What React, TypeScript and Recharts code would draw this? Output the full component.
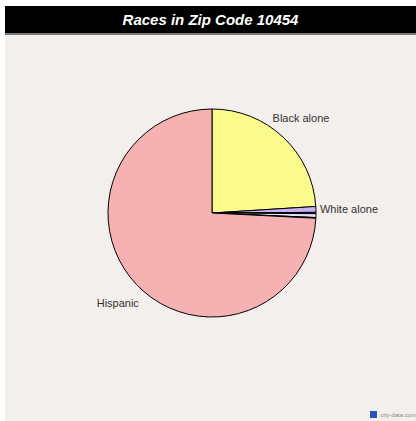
import React from "react";
import { PieChart, Pie, Cell } from "recharts";

const title = "Races in Zip Code 10454";
const categories = ["Black alone", "White alone", "Asian alone", "Two or more races", "Other race alone", "Hispanic"];
const values = [24.0, 0.9, 0.2, 0.6, 0.1, 74.2];
const colors = ["#fbfa8c", "#c8b2f2", "#a9b8ee", "#e6defa", "#d8d0f0", "#f6b1b3"];
const labeled = ["Black alone", "White alone", "Hispanic"];

const data = categories.map((name, i) => ({ name, value: values[i] }));

const RAD = Math.PI / 180;

function renderLabel(props: any) {
  const { cx, cy, midAngle, outerRadius, name } = props;
  if (!labeled.includes(name)) return null;
  const c = Math.cos(-midAngle * RAD);
  const s = Math.sin(-midAngle * RAD);
  let R = outerRadius + 26;
  let anchor: "start" | "middle" | "end" = "middle";
  if (Math.abs(c) > 0.95) {
    R = outerRadius + 4;
    anchor = c > 0 ? "start" : "end";
  }
  const x = cx + R * c;
  const y = cy + R * s;
  return (
    <text
      x={x}
      y={y}
      textAnchor={anchor}
      dominantBaseline="central"
      fill="#333"
      fontSize={11}
      fontFamily="'Liberation Sans', Arial, sans-serif"
    >
      {name}
    </text>
  );
}

export default function App() {
  return (
    <div
      style={{
        position: "absolute",
        left: 5,
        top: 6,
        width: 411,
        height: 415,
        background: "#f2efec",
        overflow: "hidden",
      }}
    >
      <div
        style={{
          height: 27,
          background: "#000",
          color: "#fff",
          fontFamily: "'Liberation Sans', Arial, sans-serif",
          fontWeight: "bold",
          fontStyle: "italic",
          fontSize: 15,
          lineHeight: "27px",
          textAlign: "center",
          borderBottom: "2px solid #777",
        }}
      >
        {title}
      </div>
      <PieChart width={411} height={386} margin={{ top: 0, right: 0, bottom: 0, left: 0 }}>
        <Pie
          data={data}
          dataKey="value"
          nameKey="name"
          cx={207}
          cy={178}
          outerRadius={104}
          startAngle={90}
          endAngle={-270}
          stroke="#000"
          strokeWidth={1}
          label={renderLabel}
          labelLine={false}
          isAnimationActive={false}
        >
          {data.map((d, i) => (
            <Cell key={d.name} fill={colors[i]} />
          ))}
        </Pie>
      </PieChart>
      <div
        style={{
          position: "absolute",
          right: 0,
          bottom: 3,
          display: "flex",
          alignItems: "center",
          fontFamily: "'Liberation Sans', Arial, sans-serif",
          fontSize: 6,
          color: "#8a8a8a",
        }}
      >
        <div style={{ width: 7, height: 7, background: "#3050c0", marginRight: 3 }} />
        city-data.com
      </div>
    </div>
  );
}
